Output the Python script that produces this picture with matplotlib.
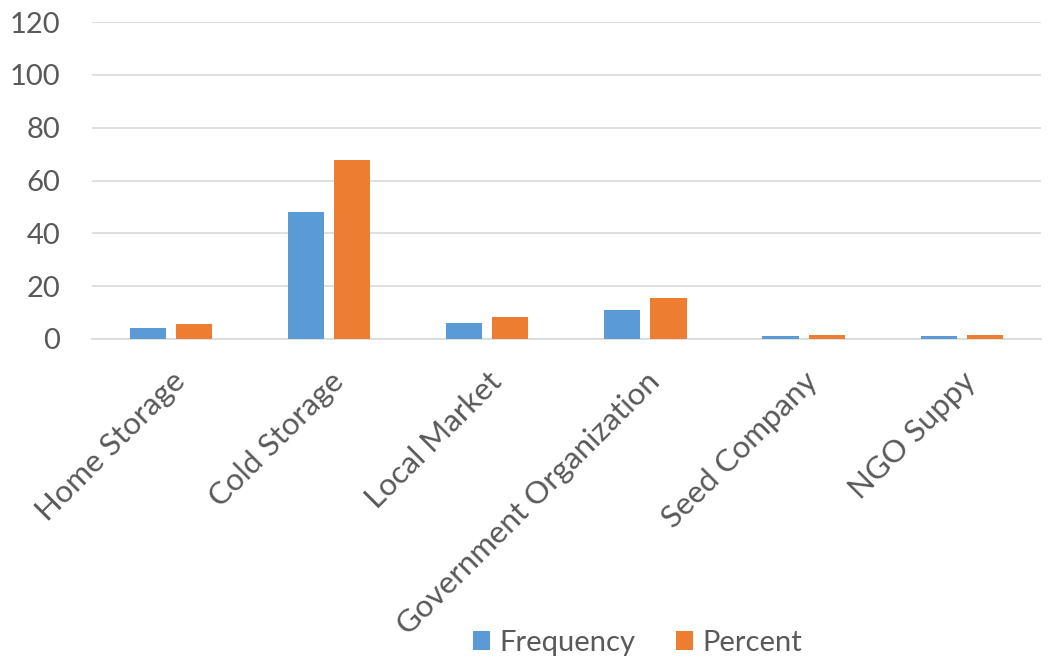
import matplotlib.pyplot as plt
import numpy as np

categories = ["Home Storage", "Cold Storage", "Local Market",
              "Government Organization", "Seed Company", "NGO Suppy"]
frequency = [4, 48, 6, 11, 1, 1]
percent = [5.6, 67.6, 8.5, 15.5, 1.4, 1.4]
yticks = [0, 20, 40, 60, 80, 100, 120]

plt.rcParams['font.family'] = ['Lato', 'DejaVu Sans']
txt = '#595959'

fig = plt.figure(figsize=(10.62, 6.59), dpi=100)
ax = fig.add_axes([0.0866, 0.4856, 0.8934, 0.481])

x = np.arange(len(categories))
w = 0.228
gap = 0.064
ax.bar(x - (w + gap) / 2, frequency, w, color='#5B9BD5', label='Frequency', zorder=3)
ax.bar(x + (w + gap) / 2, percent, w, color='#ED7D31', label='Percent', zorder=3)

ax.set_xlim(-0.5, len(categories) - 0.5)
ax.set_ylim(0, 120)
ax.set_yticks(yticks)
ax.yaxis.grid(True, color='#D9D9D9', linewidth=1.2, zorder=0)
for s in ['top', 'right', 'left']:
    ax.spines[s].set_visible(False)
ax.spines['bottom'].set_color('#D9D9D9')
ax.spines['bottom'].set_linewidth(1.2)
ax.tick_params(axis='y', length=0, labelsize=21, labelcolor=txt, pad=23)
ax.tick_params(axis='x', length=0, labelsize=22.5, labelcolor=txt, pad=20)
ax.set_xticks(x)
ax.set_xticklabels(categories, rotation=45, ha='right', rotation_mode='anchor')

fig.legend(loc='center', bbox_to_anchor=(0.60, 0.025), ncol=2, frameon=False,
           fontsize=21, labelcolor=txt, handlelength=0.6, handleheight=0.6,
           handletextpad=0.3, columnspacing=1.4)

plt.savefig("out.png", dpi=100)
